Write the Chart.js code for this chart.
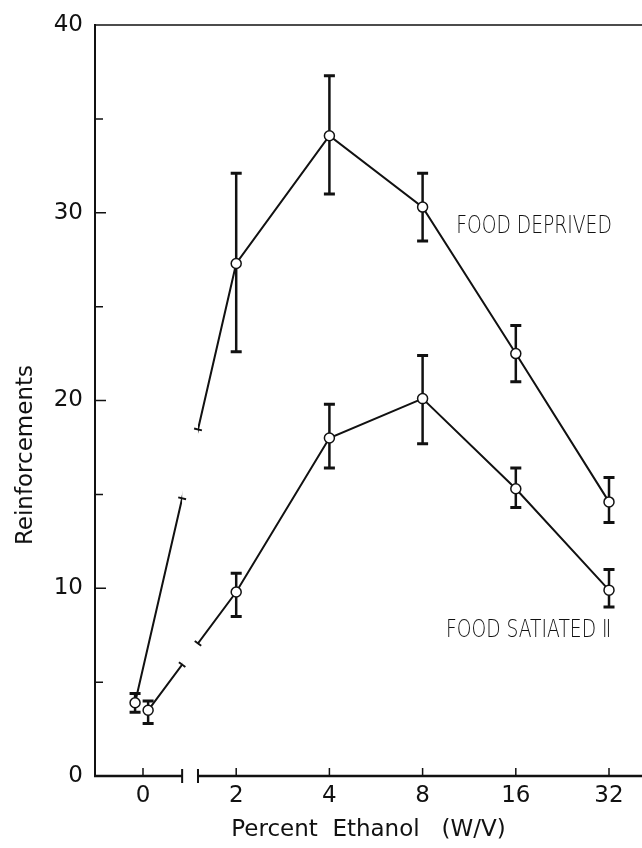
<!DOCTYPE html>
<html>
<head>
<meta charset="utf-8">
<script src="https://cdn.jsdelivr.net/npm/chart.js@4.4.1/dist/chart.umd.min.js"></script>
<style>
  html, body { margin: 0; padding: 0; background: #fff; }
</style>
</head>
<body>
<canvas id="chart" width="642" height="848"></canvas>
<script>
// values
const categories = ["0", "2", "4", "8", "16", "32"];
const deprivedMean = [3.9, 27.3, 34.1, 30.3, 22.5, 14.6];
const deprivedHigh = [4.4, 32.1, 37.3, 32.1, 24.0, 15.9];
const deprivedLow  = [3.4, 22.6, 31.0, 28.5, 21.0, 13.5];
const satiatedMean = [3.5, 9.8, 18.0, 20.1, 15.3, 9.9];
const satiatedHigh = [4.0, 10.8, 19.8, 22.4, 16.4, 11.0];
const satiatedLow  = [2.8, 8.5, 16.4, 17.7, 14.3, 9.0];
const yTicks = [0, 10, 20, 30, 40];
const yMinorTicks = [5, 15, 25, 35];

const ink = "#111";
const fontFamily = "'DejaVu Sans', sans-serif";
const breakFrom = 0.42, breakTo = 0.59;   // axis break, in category units
const zeroNudge = [-0.085, 0.055];        // the two 0% points sit side by side

const xPos = (i, s) => i + (i === 0 ? zeroNudge[s] : 0);
const toPoints = (vals, s) => vals.map((v, i) => ({ x: xPos(i, s), y: v }));

const errorSets = [[deprivedHigh, deprivedLow], [satiatedHigh, satiatedLow]];

const paperPlugin = {
  id: "paper",
  beforeDatasetsDraw(chart) {
    const { ctx, scales: { x, y } } = chart;
    ctx.save();
    ctx.strokeStyle = ink;
    errorSets.forEach(([hi, lo], s) => {
      hi.forEach((h, i) => {
        const px = x.getPixelForValue(xPos(i, s));
        const top = y.getPixelForValue(h);
        const bot = y.getPixelForValue(lo[i]);
        ctx.lineWidth = 2.5;
        ctx.beginPath();
        ctx.moveTo(px, top); ctx.lineTo(px, bot);
        ctx.stroke();
        ctx.lineWidth = 3;
        ctx.beginPath();
        ctx.moveTo(px - 5.5, top); ctx.lineTo(px + 5.5, top);
        ctx.moveTo(px - 5.5, bot); ctx.lineTo(px + 5.5, bot);
        ctx.stroke();
      });
    });
    ctx.restore();
  },
  afterDatasetsDraw(chart) {
    const { ctx, chartArea: a, scales: { x, y } } = chart;
    const gx1 = x.getPixelForValue(breakFrom);
    const gx2 = x.getPixelForValue(breakTo);
    ctx.save();

    // break in the lines and the axis
    ctx.fillStyle = "#fff";
    ctx.fillRect(gx1, a.top + 3, gx2 - gx1, a.bottom - a.top + 12);

    // little end marks where the lines are cut
    ctx.strokeStyle = ink;
    ctx.lineWidth = 2;
    chart.data.datasets.forEach(ds => {
      const p0 = ds.data[0], p1 = ds.data[1];
      const x0 = x.getPixelForValue(p0.x), y0 = y.getPixelForValue(p0.y);
      const x1 = x.getPixelForValue(p1.x), y1 = y.getPixelForValue(p1.y);
      const dx = x1 - x0, dy = y1 - y0, len = Math.hypot(dx, dy);
      const nx = -dy / len, ny = dx / len;
      [gx1, gx2].forEach(ex => {
        const ey = y0 + (ex - x0) * dy / dx;
        ctx.beginPath();
        ctx.moveTo(ex - nx * 4, ey - ny * 4);
        ctx.lineTo(ex + nx * 4, ey + ny * 4);
        ctx.stroke();
      });
    });

    // top rule
    ctx.lineWidth = 1.5;
    ctx.beginPath();
    ctx.moveTo(a.left, a.top); ctx.lineTo(a.right, a.top);
    ctx.stroke();

    // bottom axis with break
    ctx.lineWidth = 2.5;
    ctx.beginPath();
    ctx.moveTo(a.left - 1, a.bottom); ctx.lineTo(gx1, a.bottom);
    ctx.moveTo(gx2, a.bottom); ctx.lineTo(a.right, a.bottom);
    ctx.stroke();
    ctx.lineWidth = 2;
    ctx.beginPath();
    [gx1, gx2].forEach(gx => { ctx.moveTo(gx, a.bottom - 7); ctx.lineTo(gx, a.bottom + 7); });
    ctx.stroke();

    // inward tick marks
    ctx.lineWidth = 1.5;
    ctx.beginPath();
    categories.forEach((c, i) => {
      const px = x.getPixelForValue(i);
      ctx.moveTo(px, a.bottom); ctx.lineTo(px, a.bottom - 8);
    });
    yTicks.slice(1, -1).forEach(v => {
      const py = y.getPixelForValue(v);
      ctx.moveTo(a.left, py); ctx.lineTo(a.left + 11, py);
    });
    yMinorTicks.forEach(v => {
      const py = y.getPixelForValue(v);
      ctx.moveTo(a.left, py); ctx.lineTo(a.left + 8, py);
    });
    ctx.stroke();

    // series labels (condensed lettering)
    ctx.fillStyle = ink;
    ctx.textBaseline = "alphabetic";
    ctx.textAlign = "left";
    ctx.font = "200 24px " + fontFamily;
    const labels = [
      ["FOOD DEPRIVED", x.getPixelForValue(3.36), y.getPixelForValue(28.9)],
      ["FOOD SATIATED \u2161", x.getPixelForValue(3.25), y.getPixelForValue(7.4)]
    ];
    labels.forEach(([t, lx, ly]) => {
      ctx.save();
      ctx.translate(lx, ly);
      ctx.scale(0.78, 1);
      ctx.fillText(t, 0, 0);
      ctx.restore();
    });

    // y axis title
    ctx.save();
    ctx.translate(26, 365);
    ctx.rotate(-Math.PI / 2);
    ctx.textAlign = "right";
    ctx.textBaseline = "middle";
    ctx.font = "23px " + fontFamily;
    ctx.fillText("Reinforcements", 0, 0);
    ctx.restore();

    ctx.restore();
  }
};

const ctx = document.getElementById("chart").getContext("2d");
new Chart(ctx, {
  type: "line",
  data: {
    datasets: [
      {
        label: "Food deprived",
        data: toPoints(deprivedMean, 0),
        borderColor: ink,
        borderWidth: 2,
        pointRadius: 5,
        pointBorderWidth: 1.5,
        pointBackgroundColor: "#fff",
        pointBorderColor: ink,
        tension: 0
      },
      {
        label: "Food satiated II",
        data: toPoints(satiatedMean, 1),
        borderColor: ink,
        borderWidth: 2,
        pointRadius: 5,
        pointBorderWidth: 1.5,
        pointBackgroundColor: "#fff",
        pointBorderColor: ink,
        tension: 0
      }
    ]
  },
  options: {
    responsive: false,
    animation: false,
    layout: { autoPadding: false, padding: { top: 25, right: 0, left: 0, bottom: 0 } },
    plugins: { legend: { display: false }, tooltip: { enabled: false } },
    scales: {
      x: {
        type: "linear",
        min: -0.515,
        max: 5.354,
        afterBuildTicks: s => { s.ticks = categories.map((c, i) => ({ value: i })); },
        afterFit: s => { s.height = 72; s.paddingLeft = 0; s.paddingRight = 0; },
        grid: { display: false, drawTicks: false },
        border: { display: false },
        ticks: {
          padding: 6,
          color: ink,
          font: { family: fontFamily, size: 23 },
          callback: v => categories[v]
        },
        title: {
          display: true,
          text: "Percent  Ethanol   (W/V)",
          color: ink,
          font: { family: fontFamily, size: 23 },
          padding: { top: 0, bottom: 4 }
        }
      },
      y: {
        min: 0,
        max: 40,
        afterBuildTicks: s => { s.ticks = yTicks.map(v => ({ value: v })); },
        afterFit: s => { s.width = 95; s.paddingTop = 0; s.paddingBottom = 0; },
        grid: { display: false, drawTicks: false },
        border: { display: true, color: ink, width: 2 },
        ticks: {
          padding: 12,
          color: ink,
          font: { family: fontFamily, size: 23 }
        }
      }
    }
  },
  plugins: [paperPlugin]
});
</script>
</body>
</html>
